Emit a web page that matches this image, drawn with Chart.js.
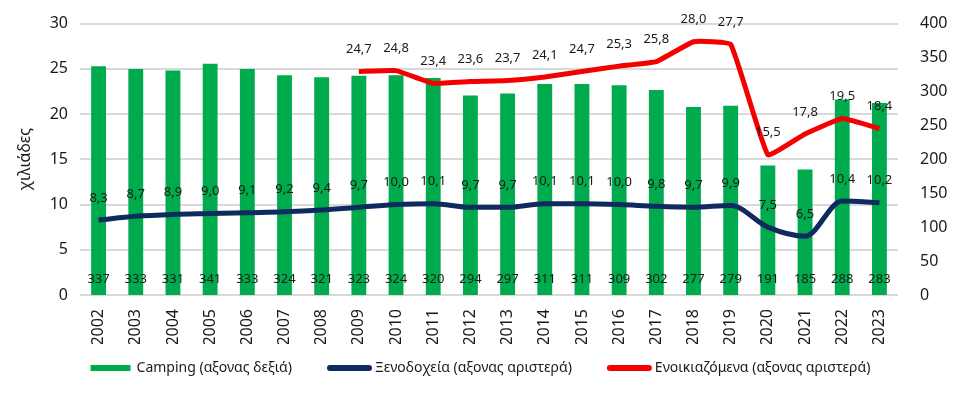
<!DOCTYPE html>
<html>
<head>
<meta charset="utf-8">
<script src="https://cdn.jsdelivr.net/npm/chart.js@4"></script>
<style>
  html, body { margin: 0; padding: 0; background: #fff; }
  #wrap { width: 953px; height: 394px; }
</style>
</head>
<body>
<div id="wrap"><canvas id="c"></canvas></div>
<script>
const years = ["2002","2003","2004","2005","2006","2007","2008","2009","2010","2011","2012",
  "2013","2014","2015","2016","2017","2018","2019","2020","2021","2022","2023"];

// Camping (right axis)
const camping = [337,333,331,341,333,324,321,323,324,320,294,297,311,311,309,302,277,279,191,185,288,283];
// Hotels (left axis, thousands)
const hotels = [8.3,8.7,8.9,9.0,9.1,9.2,9.4,9.7,10.0,10.1,9.7,9.7,10.1,10.1,10.0,9.8,9.7,9.9,7.5,6.5,10.4,10.2];
// Rentals (left axis, from 2009)
const rentals = [null,null,null,null,null,null,null,24.7,24.8,23.4,23.6,23.7,24.1,24.7,25.3,25.8,28.0,27.7,15.5,17.8,19.5,18.4];

const leftTicks = [0,5,10,15,20,25,30];
const rightTicks = [0,50,100,150,200,250,300,350,400];

const FONT = "'Noto Sans', sans-serif";
const TXT = "#1a1a1a";
const fmt = v => v.toFixed(1).replace(".", ",");

// labels: bars at base, lines above points
const valueLabels = {
  id: "valueLabels",
  afterDatasetsDraw(chart) {
    const ctx = chart.ctx;
    ctx.save();
    ctx.font = "13px " + FONT;
    ctx.fillStyle = TXT;
    ctx.textAlign = "center";
    ctx.textBaseline = "middle";
    chart.data.datasets.forEach((ds, di) => {
      const meta = chart.getDatasetMeta(di);
      meta.data.forEach((el, i) => {
        const v = ds.data[i];
        if (v == null) return;
        if (ds.type === "bar") {
          ctx.fillText(String(v), el.x, chart.scales.y1.bottom - 16);
        } else {
          ctx.fillText(fmt(v), el.x, el.y - 22);
        }
      });
    });
    ctx.restore();
  }
};

// simple legend under the chart
const bottomLegend = {
  id: "bottomLegend",
  afterDraw(chart) {
    const ctx = chart.ctx;
    const gapItem = 35;
    ctx.save();
    ctx.font = "14px " + FONT;
    ctx.textBaseline = "middle";
    const items = chart.data.datasets.map(ds => {
      const isBar = ds.type === "bar";
      const sw = isBar ? 40 : 45, gap = isBar ? 6 : 3;
      return { text: ds.label, color: ds.backgroundColor, isBar, sw, gap,
        w: sw + gap + ctx.measureText(ds.label).width };
    });
    const total = items.reduce((a, it) => a + it.w, 0) + gapItem * (items.length - 1);
    let x = (chart.width - total) / 2 + 4;
    const y = 368;
    items.forEach(it => {
      if (it.isBar) {
        ctx.fillStyle = it.color;
        ctx.fillRect(x, y - 3, it.sw, 6);
      } else {
        ctx.strokeStyle = it.color;
        ctx.lineWidth = 6;
        ctx.lineCap = "round";
        ctx.beginPath();
        ctx.moveTo(x + 3, y);
        ctx.lineTo(x + it.sw - 3, y);
        ctx.stroke();
      }
      ctx.fillStyle = TXT;
      ctx.fillText(it.text, x + it.sw + it.gap, y);
      x += it.w + gapItem;
    });
    ctx.restore();
  }
};

new Chart(document.getElementById("c"), {
  data: {
    labels: years,
    datasets: [
      {
        type: "bar",
        label: "Camping (αξονας δεξιά)",
        data: camping,
        yAxisID: "y1",
        backgroundColor: "#00ab4e",
        barPercentage: 0.8,
        categoryPercentage: 0.5,
        order: 3,
      },
      {
        type: "line",
        label: "Ξενοδοχεία (αξονας αριστερά)",
        data: hotels,
        yAxisID: "y",
        borderColor: "#0f2a5e",
        backgroundColor: "#0f2a5e",
        borderWidth: 5,
        cubicInterpolationMode: "monotone",
        pointRadius: 0,
        order: 2,
      },
      {
        type: "line",
        label: "Ενοικιαζόμενα (αξονας αριστερά)",
        data: rentals,
        yAxisID: "y",
        borderColor: "#f40000",
        backgroundColor: "#f40000",
        borderWidth: 5,
        tension: 0.1,
        pointRadius: 0,
        order: 1,
      },
    ],
  },
  options: {
    responsive: true,
    maintainAspectRatio: false,
    animation: false,
    layout: { padding: { top: 14, right: 0, left: 0, bottom: 50 } },
    plugins: {
      tooltip: { enabled: false },
      legend: { display: false },
    },
    scales: {
      x: {
        grid: { display: false },
        border: { display: false },
        afterFit(s) { s.height = 49; },
        ticks: {
          font: { family: FONT, size: 16 },
          color: TXT,
          minRotation: 90,
          maxRotation: 90,
          padding: 6,
        },
      },
      y: {
        position: "left",
        min: 0,
        max: 30,
        afterBuildTicks(s) { s.ticks = leftTicks.map(v => ({ value: v })); },
        afterFit(s) { s.width = 80; },
        grid: { color: "#d9d9d9", lineWidth: 2, drawTicks: false },
        border: { display: false },
        ticks: { font: { family: FONT, size: 16 }, color: TXT, padding: 12 },
        title: { display: true, text: "χιλιάδες", font: { family: FONT, size: 16 }, color: TXT, padding: { top: 16, bottom: 0 } },
      },
      y1: {
        position: "right",
        min: 0,
        max: 400,
        afterBuildTicks(s) { s.ticks = rightTicks.map(v => ({ value: v })); },
        afterFit(s) { s.width = 55; },
        grid: { display: false },
        border: { display: false },
        ticks: { font: { family: FONT, size: 16 }, color: TXT, padding: 14 },
      },
    },
  },
  plugins: [valueLabels, bottomLegend],
});
</script>
</body>
</html>
